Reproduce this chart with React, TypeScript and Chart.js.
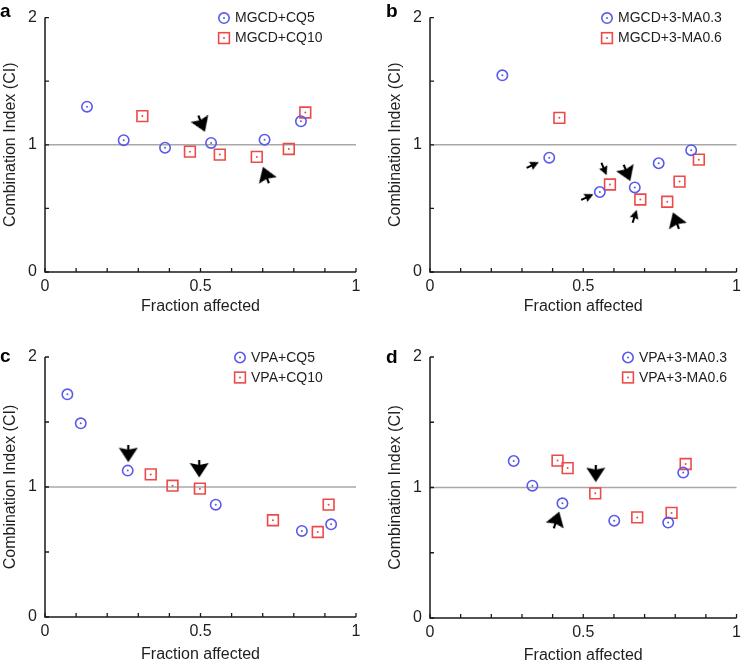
import React, { useEffect, useRef } from "react";
import { Chart, registerables } from "chart.js";

Chart.register(...registerables);

// ---------------- data ----------------
const xTickLabels = [0, 0.5, 1];
const yTickLabels = [0, 1, 2];
const xMinorTicks = [0, 0.1, 0.2, 0.3, 0.4, 0.5, 0.6, 0.7, 0.8, 0.9, 1];
const yMinorTicks = [0, 0.5, 1, 1.5, 2];
const referenceCI = 1;
const xTitle = "Fraction affected";
const yTitle = "Combination Index (CI)";

const panelLetters = ["a", "b", "c", "d"];
const circleLabels = ["MGCD+CQ5", "MGCD+3-MA0.3", "VPA+CQ5", "VPA+3-MA0.3"];
const squareLabels = ["MGCD+CQ10", "MGCD+3-MA0.6", "VPA+CQ10", "VPA+3-MA0.6"];

// panel a
const aCircleFa = [0.135, 0.253, 0.386, 0.534, 0.706, 0.823];
const aCircleCI = [1.3, 1.036, 0.977, 1.015, 1.04, 1.185];
const aSquareFa = [0.313, 0.466, 0.562, 0.681, 0.784, 0.837];
const aSquareCI = [1.226, 0.946, 0.923, 0.905, 0.967, 1.254];
const aArrowFa = [0.504, 0.71];
const aArrowCI = [1.164, 0.764];
const aArrowAngle = [158, 340];
const aArrowKind = ["big", "big"];

// panel b
const bCircleFa = [0.236, 0.389, 0.554, 0.668, 0.746, 0.852];
const bCircleCI = [1.546, 0.899, 0.629, 0.665, 0.855, 0.958];
const bSquareFa = [0.422, 0.587, 0.686, 0.774, 0.814, 0.877];
const bSquareCI = [1.212, 0.688, 0.57, 0.552, 0.711, 0.883];
const bArrowFa = [0.336, 0.568, 0.643, 0.514, 0.668, 0.802];
const bArrowCI = [0.842, 0.808, 0.777, 0.59, 0.44, 0.406];
const bArrowAngle = [65, 157, 158, 65, 18, 340];
const bArrowKind = ["small", "small", "big", "small", "small", "big"];

// panel c
const cCircleFa = [0.072, 0.115, 0.266, 0.549, 0.826, 0.92];
const cCircleCI = [1.713, 1.49, 1.126, 0.864, 0.662, 0.713];
const cSquareFa = [0.34, 0.41, 0.498, 0.733, 0.877, 0.912];
const cSquareCI = [1.097, 1.01, 0.987, 0.744, 0.654, 0.864];
const cArrowFa = [0.268, 0.496];
const cArrowCI = [1.256, 1.138];
const cArrowAngle = [180, 180];
const cArrowKind = ["big", "big"];

// panel d
const dCircleFa = [0.273, 0.334, 0.432, 0.601, 0.777, 0.826];
const dCircleCI = [1.203, 1.014, 0.879, 0.746, 0.731, 1.114];
const dSquareFa = [0.416, 0.449, 0.539, 0.676, 0.788, 0.834];
const dSquareCI = [1.206, 1.149, 0.955, 0.771, 0.805, 1.18];
const dArrowFa = [0.541, 0.413];
const dArrowCI = [1.106, 0.753];
const dArrowAngle = [180, 18];
const dArrowKind = ["big", "big"];

// ---------------- styles ----------------
const FONT = '"Liberation Sans", Arial, Helvetica, sans-serif';
const TEXT = "#1e1e1e";
const BLUE = "#5a5aea";
const RED = "#ec4a4a";
const CIRCLE_R = 5.2;
const SQUARE_R = 7.6;
const MARK_W = 1.6;

type Panel = {
  letter: string;
  circleLabel: string;
  squareLabel: string;
  circleFa: number[];
  circleCI: number[];
  squareFa: number[];
  squareCI: number[];
  arrowFa: number[];
  arrowCI: number[];
  arrowAngle: number[];
  arrowKind: string[];
  left: number;
  top: number;
  w: number;
  h: number;
  area: { l: number; t: number; r: number; b: number };
  legendDx: number;
  letterX: number;
  letterY: number;
  xTitleDy: number;
};

const panels: Panel[] = [
  {
    letter: panelLetters[0], circleLabel: circleLabels[0], squareLabel: squareLabels[0],
    circleFa: aCircleFa, circleCI: aCircleCI, squareFa: aSquareFa, squareCI: aSquareCI,
    arrowFa: aArrowFa, arrowCI: aArrowCI, arrowAngle: aArrowAngle, arrowKind: aArrowKind,
    left: 0, top: 0, w: 373, h: 330, area: { l: 45, t: 12, r: 356, b: 272 },
    legendDx: 179, letterX: 0, letterY: 17, xTitleDy: 35,
  },
  {
    letter: panelLetters[1], circleLabel: circleLabels[1], squareLabel: squareLabels[1],
    circleFa: bCircleFa, circleCI: bCircleCI, squareFa: bSquareFa, squareCI: bSquareCI,
    arrowFa: bArrowFa, arrowCI: bArrowCI, arrowAngle: bArrowAngle, arrowKind: bArrowKind,
    left: 373, top: 0, w: 373, h: 330, area: { l: 57, t: 12, r: 368, b: 272 },
    legendDx: 177, letterX: 13, letterY: 17, xTitleDy: 35,
  },
  {
    letter: panelLetters[2], circleLabel: circleLabels[2], squareLabel: squareLabels[2],
    circleFa: cCircleFa, circleCI: cCircleCI, squareFa: cSquareFa, squareCI: cSquareCI,
    arrowFa: cArrowFa, arrowCI: cArrowCI, arrowAngle: cArrowAngle, arrowKind: cArrowKind,
    left: 0, top: 330, w: 373, h: 334, area: { l: 45, t: 27, r: 356, b: 287 },
    legendDx: 195, letterX: 0, letterY: 32, xTitleDy: 38,
  },
  {
    letter: panelLetters[3], circleLabel: circleLabels[3], squareLabel: squareLabels[3],
    circleFa: dCircleFa, circleCI: dCircleCI, squareFa: dSquareFa, squareCI: dSquareCI,
    arrowFa: dArrowFa, arrowCI: dArrowCI, arrowAngle: dArrowAngle, arrowKind: dArrowKind,
    left: 373, top: 330, w: 373, h: 334, area: { l: 57, t: 27, r: 368, b: 288 },
    legendDx: 198, letterX: 13, letterY: 33, xTitleDy: 38,
  },
];

// arrow glyphs (pointing up in their own frame)
let arrowCache: Record<string, HTMLCanvasElement> | null = null;
function arrowImages() {
  if (arrowCache) return arrowCache;
  const make = (w: number, h: number, headLen: number, notch: number, shaftW: number) => {
    const c = document.createElement("canvas");
    c.width = w;
    c.height = h;
    const g = c.getContext("2d")!;
    g.fillStyle = "#000";
    g.beginPath();
    g.moveTo(w / 2, 0.5);
    g.lineTo(w - 0.5, headLen);
    g.lineTo(w / 2, notch);
    g.lineTo(0.5, headLen);
    g.closePath();
    g.fill();
    g.fillRect(w / 2 - shaftW / 2, notch - 1, shaftW, h - notch + 1);
    return c;
  };
  arrowCache = {
    big: make(20, 18, 15, 13, 2.2),
    small: make(10, 14, 9.5, 8.5, 2),
  };
  return arrowCache;
}

function drawMarker(ctx: CanvasRenderingContext2D, kind: "circle" | "square", x: number, y: number) {
  ctx.save();
  ctx.lineWidth = MARK_W;
  if (kind === "circle") {
    ctx.strokeStyle = BLUE;
    ctx.fillStyle = BLUE;
    ctx.beginPath();
    ctx.arc(x, y, CIRCLE_R, 0, Math.PI * 2);
    ctx.stroke();
  } else {
    ctx.strokeStyle = RED;
    ctx.fillStyle = RED;
    const s = SQUARE_R * Math.SQRT1_2;
    ctx.strokeRect(x - s, y - s, 2 * s, 2 * s);
  }
  ctx.beginPath();
  ctx.arc(x, y, 1, 0, Math.PI * 2);
  ctx.fill();
  ctx.restore();
}

function makeDecor(p: Panel) {
  return {
    id: "decor",
    beforeDatasetsDraw(chart: any) {
      const { ctx, chartArea: ca, scales } = chart;
      const x = scales.x;
      const y = scales.y;
      ctx.save();
      // reference line CI = 1
      const yr = y.getPixelForValue(referenceCI);
      ctx.strokeStyle = "#a8a8a8";
      ctx.lineWidth = 1.6;
      ctx.beginPath();
      ctx.moveTo(ca.left, yr);
      ctx.lineTo(ca.right, yr);
      ctx.stroke();
      // axes
      ctx.strokeStyle = "#1a1a1a";
      ctx.lineWidth = 1.5;
      ctx.beginPath();
      ctx.moveTo(ca.left, ca.top);
      ctx.lineTo(ca.left, ca.bottom);
      ctx.lineTo(ca.right, ca.bottom);
      ctx.stroke();
      // inward ticks
      ctx.lineWidth = 1.3;
      ctx.beginPath();
      xMinorTicks.forEach((v) => {
        const px = x.getPixelForValue(v);
        ctx.moveTo(px, ca.bottom);
        ctx.lineTo(px, ca.bottom - 4);
      });
      yMinorTicks.forEach((v) => {
        const py = y.getPixelForValue(v);
        ctx.moveTo(ca.left, py);
        ctx.lineTo(ca.left + 4, py);
      });
      ctx.stroke();
      // titles
      ctx.fillStyle = TEXT;
      ctx.font = `16px ${FONT}`;
      ctx.textAlign = "center";
      ctx.textBaseline = "middle";
      ctx.fillText(xTitle, (ca.left + ca.right) / 2, ca.bottom + p.xTitleDy);
      ctx.translate(ca.left - 34, (ca.top + ca.bottom) / 2);
      ctx.rotate(-Math.PI / 2);
      ctx.fillText(yTitle, 0, 0);
      ctx.restore();
    },
    afterDatasetsDraw(chart: any) {
      const { ctx, chartArea: ca } = chart;
      // centre dots of the markers
      [0, 1].forEach((di) => {
        const meta = chart.getDatasetMeta(di);
        ctx.save();
        ctx.fillStyle = di === 0 ? BLUE : RED;
        meta.data.forEach((el: any) => {
          ctx.beginPath();
          ctx.arc(el.x, el.y, 1, 0, Math.PI * 2);
          ctx.fill();
        });
        ctx.restore();
      });
      // legend
      const lx = ca.left + p.legendDx;
      const rows = [
        { kind: "circle" as const, label: p.circleLabel, y: ca.top + 0.5 },
        { kind: "square" as const, label: p.squareLabel, y: ca.top + 20.5 },
      ];
      rows.forEach((r) => {
        drawMarker(ctx, r.kind, lx, r.y);
        ctx.save();
        ctx.fillStyle = TEXT;
        ctx.font = `14px ${FONT}`;
        ctx.textAlign = "left";
        ctx.textBaseline = "middle";
        ctx.fillText(r.label, lx + 11, r.y + 0.5);
        ctx.restore();
      });
      // panel letter
      ctx.save();
      ctx.fillStyle = "#000";
      ctx.font = `bold 19px ${FONT}`;
      ctx.textAlign = "left";
      ctx.textBaseline = "alphabetic";
      ctx.fillText(p.letter, p.letterX, p.letterY);
      ctx.restore();
    },
  };
}

function PanelChart({ p }: { p: Panel }) {
  const ref = useRef<HTMLCanvasElement>(null);
  useEffect(() => {
    const imgs = arrowImages();
    const toPts = (xs: number[], ys: number[]) => xs.map((v, i) => ({ x: v, y: ys[i] }));
    const chart = new Chart(ref.current as HTMLCanvasElement, {
      type: "scatter",
      data: {
        datasets: [
          {
            label: p.circleLabel,
            data: toPts(p.circleFa, p.circleCI),
            pointStyle: "circle",
            pointRadius: CIRCLE_R,
            pointBorderWidth: MARK_W,
            pointBorderColor: BLUE,
            pointBackgroundColor: "rgba(0,0,0,0)",
          },
          {
            label: p.squareLabel,
            data: toPts(p.squareFa, p.squareCI),
            pointStyle: "rect",
            pointRadius: SQUARE_R,
            pointBorderWidth: MARK_W,
            pointBorderColor: RED,
            pointBackgroundColor: "rgba(0,0,0,0)",
          },
          {
            label: "arrows",
            data: toPts(p.arrowFa, p.arrowCI),
            pointStyle: (c: any) => imgs[p.arrowKind[c.dataIndex]] as any,
            pointRotation: (c: any) => p.arrowAngle[c.dataIndex],
            pointRadius: 6,
            pointBorderWidth: 0,
          } as any,
        ],
      },
      options: {
        responsive: false,
        maintainAspectRatio: false,
        animation: false,
        events: [],
        layout: {
          padding: { left: 0, top: p.area.t, right: p.w - p.area.r, bottom: 0 },
        },
        plugins: { legend: { display: false }, tooltip: { enabled: false } },
        scales: {
          x: {
            type: "linear",
            min: 0,
            max: 1,
            afterBuildTicks: (s: any) => {
              s.ticks = xTickLabels.map((v) => ({ value: v }));
            },
            afterFit: (s: any) => {
              s.height = p.h - p.area.b;
            },
            ticks: {
              autoSkip: false,
              maxRotation: 0,
              padding: 5,
              color: TEXT,
              font: { family: FONT, size: 16 },
              callback: (v: any) => String(v),
            },
            grid: { display: false, drawTicks: false },
            border: { display: false },
          },
          y: {
            type: "linear",
            min: 0,
            max: 2,
            afterBuildTicks: (s: any) => {
              s.ticks = yTickLabels.map((v) => ({ value: v }));
            },
            afterFit: (s: any) => {
              s.width = p.area.l;
            },
            ticks: {
              padding: 8,
              color: TEXT,
              font: { family: FONT, size: 16 },
              callback: (v: any) => String(v),
            },
            grid: { display: false, drawTicks: false },
            border: { display: false },
          },
        },
      } as any,
      plugins: [makeDecor(p)],
    });
    return () => chart.destroy();
  }, [p]);
  return (
    <canvas
      ref={ref}
      width={p.w}
      height={p.h}
      style={{ position: "absolute", left: p.left, top: p.top, width: p.w, height: p.h }}
    />
  );
}

export default function App() {
  return (
    <div
      style={{
        position: "absolute",
        left: 0,
        top: 0,
        width: 746,
        height: 664,
        background: "#fff",
        overflow: "hidden",
      }}
    >
      {panels.map((p) => (
        <PanelChart key={p.letter} p={p} />
      ))}
    </div>
  );
}
